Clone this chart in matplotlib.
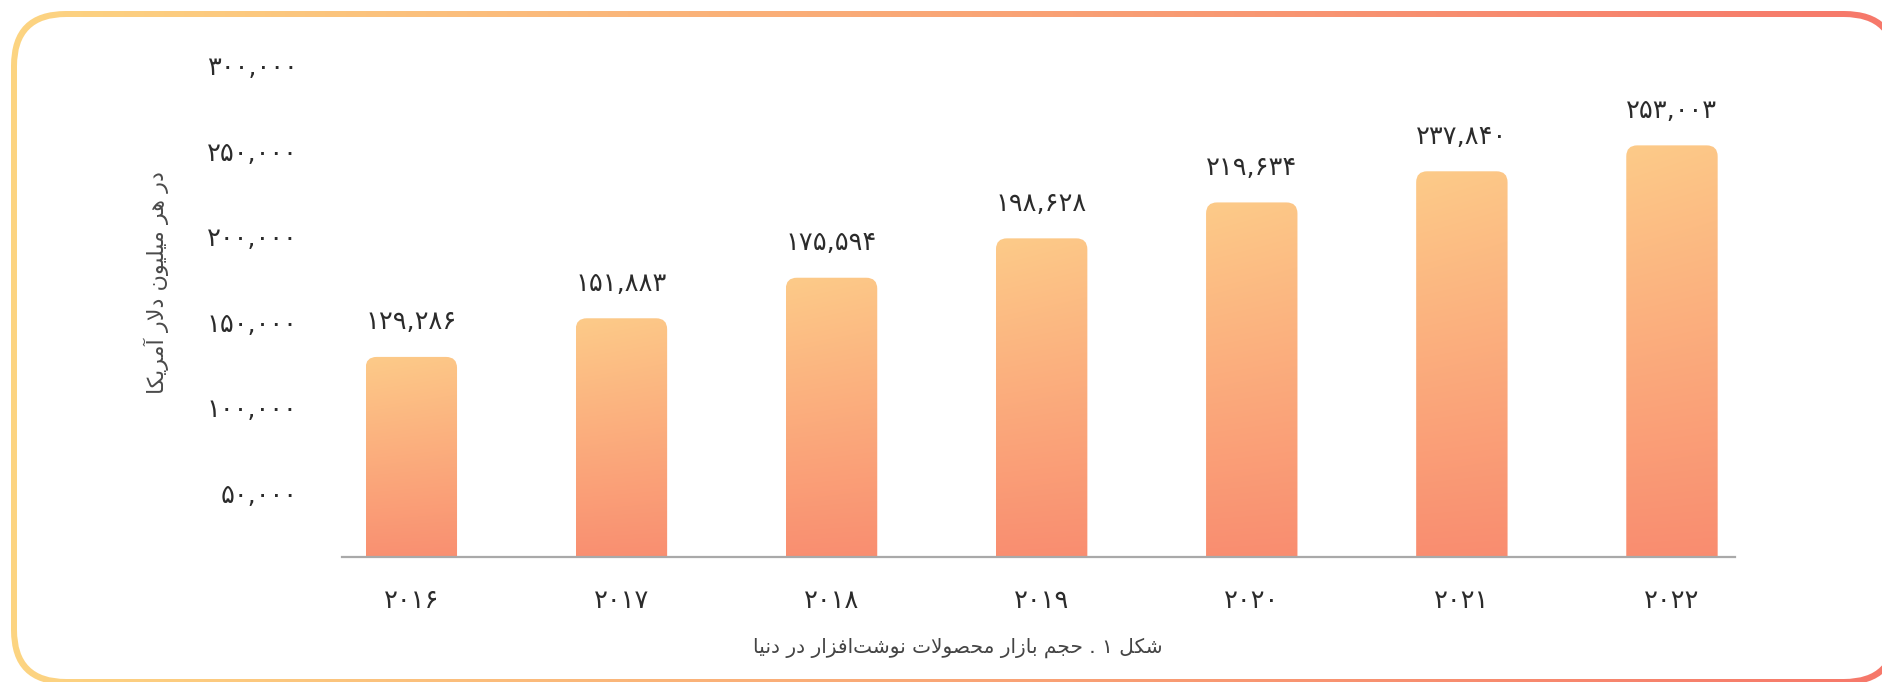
import re
import numpy as np
import matplotlib
matplotlib.use("Agg")
import matplotlib.pyplot as plt
from matplotlib.patches import FancyBboxPatch
from matplotlib.colors import to_rgb

# chart data
years = [2016, 2017, 2018, 2019, 2020, 2021, 2022]
market_size = [129286, 151883, 175594, 198628, 219634, 237840, 253003]
y_ticks = [50000, 100000, 150000, 200000, 250000, 300000]
y_label = "در هر میلیون دلار آمریکا"
caption = "شکل ۱ . حجم بازار محصولات نوشت\u200cافزار در دنیا"

W, H = 1883, 682
FONT = "DejaVu Sans"

# isolated, final, initial, medial presentation forms
FORMS = {
    'ا': ('\uFE8D', '\uFE8E', None, None),
    'آ': ('\uFE81', '\uFE82', None, None),
    'د': ('\uFEA9', '\uFEAA', None, None),
    'ر': ('\uFEAD', '\uFEAE', None, None),
    'ز': ('\uFEAF', '\uFEB0', None, None),
    'و': ('\uFEED', '\uFEEE', None, None),
    'ب': ('\uFE8F', '\uFE90', '\uFE91', '\uFE92'),
    'ت': ('\uFE95', '\uFE96', '\uFE97', '\uFE98'),
    'ج': ('\uFE9D', '\uFE9E', '\uFE9F', '\uFEA0'),
    'ح': ('\uFEA1', '\uFEA2', '\uFEA3', '\uFEA4'),
    'ش': ('\uFEB5', '\uFEB6', '\uFEB7', '\uFEB8'),
    'ص': ('\uFEB9', '\uFEBA', '\uFEBB', '\uFEBC'),
    'ف': ('\uFED1', '\uFED2', '\uFED3', '\uFED4'),
    'ل': ('\uFEDD', '\uFEDE', '\uFEDF', '\uFEE0'),
    'م': ('\uFEE1', '\uFEE2', '\uFEE3', '\uFEE4'),
    'ن': ('\uFEE5', '\uFEE6', '\uFEE7', '\uFEE8'),
    'ه': ('\uFEE9', '\uFEEA', '\uFEEB', '\uFEEC'),
    'ک': ('\uFB8E', '\uFB8F', '\uFB90', '\uFB91'),
    'ی': ('\uFBFC', '\uFBFD', '\uFBFE', '\uFBFF'),
}
LAM_ALEF = {'ا': ('\uFEFB', '\uFEFC'), 'آ': ('\uFEF5', '\uFEF6')}


def links_forward(c):
    return c in FORMS and FORMS[c][2] is not None


def shape(text):
    """join persian letters and put them in visual (left to right) order"""
    out = []
    i = 0
    while i < len(text):
        c = text[i]
        if c not in FORMS:
            if c != '\u200c':
                out.append(c)
            i += 1
            continue
        link_prev = i > 0 and links_forward(text[i - 1])
        nxt = text[i + 1] if i + 1 < len(text) else ''
        if c == 'ل' and nxt in LAM_ALEF:
            out.append(LAM_ALEF[nxt][1 if link_prev else 0])
            i += 2
            continue
        link_next = links_forward(c) and nxt in FORMS
        iso, fin, ini, med = FORMS[c]
        if link_prev and link_next:
            out.append(med)
        elif link_prev:
            out.append(fin)
        elif link_next:
            out.append(ini)
        else:
            out.append(iso)
        i += 1
    s = ''.join(out)[::-1]
    return re.sub(r'[۰-۹0-9]+', lambda m: m.group(0)[::-1], s)


def fa_num(v, sep=True):
    s = f"{v:,}" if sep else str(v)
    return s.translate(str.maketrans("0123456789", "۰۱۲۳۴۵۶۷۸۹"))


fig = plt.figure(figsize=(W / 100, H / 100), dpi=100)
fig.patch.set_facecolor("white")

# gradient frame around the chart
bg = fig.add_axes([0, 0, 1, 1], zorder=0)
bg.set_xlim(0, W)
bg.set_ylim(H, 0)
bg.axis("off")
c_left, c_right = np.array(to_rgb("#FDD582")), np.array(to_rgb("#F6786A"))
t = np.linspace(0, 1, 400)[None, :, None]
frame_img = c_left * (1 - t) + c_right * t
outer = FancyBboxPatch((11, 11), 1888, 674, boxstyle="round,pad=0,rounding_size=55",
                       facecolor="none", edgecolor="none", transform=bg.transData)
bg.add_patch(outer)
im = bg.imshow(frame_img, extent=(0, W, H, 0), aspect="auto", interpolation="bicubic")
im.set_clip_path(outer)
bg.add_patch(FancyBboxPatch((17, 17), 1876, 662, boxstyle="round,pad=0,rounding_size=49",
                            facecolor="white", edgecolor="none", zorder=3))
bg.set_xlim(0, W)
bg.set_ylim(H, 0)

# main axes, placed in pixels
left_px, right_px, top_px, base_px = 342, 1735, 65, 557
ax = fig.add_axes([left_px / W, (H - base_px) / H, (right_px - left_px) / W,
                   (base_px - top_px) / H], zorder=1)
ax.patch.set_alpha(0)

x = np.arange(len(years))
x_lim = (-0.33, 6.30)
y_lim = (12281, 300000)
bars = ax.bar(x, market_size, width=0.435, color="none")

px_x = (x_lim[1] - x_lim[0]) / (right_px - left_px)
px_y = (y_lim[1] - y_lim[0]) / (base_px - top_px)
top_c, bot_c = np.array(to_rgb("#FDCB89")), np.array(to_rgb("#F98A6F"))
vy = np.linspace(0, 1, 200)[:, None, None]
hx = np.linspace(0, 1, 60)[None, :, None]
bar_img = top_c * (1 - vy) + bot_c * vy
bar_img = bar_img * (1 - 0.06 * hx) + np.array(to_rgb("#F7806A")) * 0.06 * hx
bar_img = np.clip(bar_img, 0, 1)

for b in bars:
    x0, w, h = b.get_x(), b.get_width(), b.get_height()
    b.set_visible(False)
    shape_patch = FancyBboxPatch((x0, 0), w, h,
                                 boxstyle=f"round,pad=0,rounding_size={11 * px_x}",
                                 mutation_aspect=px_y / px_x,
                                 facecolor="none", edgecolor="none")
    ax.add_patch(shape_patch)
    g = ax.imshow(bar_img, extent=(x0, x0 + w, 0, h), aspect="auto",
                  interpolation="bicubic", zorder=2)
    g.set_clip_path(shape_patch)
    ax.annotate(fa_num(int(h)), (x0 + w / 2, h), xytext=(0, 25), textcoords="offset points",
                ha="center", va="center", fontsize=18.5, color="#2b2b2b", family=FONT)

ax.set_xlim(*x_lim)
ax.set_ylim(*y_lim)
ax.set_xticks(x, [fa_num(y, sep=False) for y in years])
ax.set_yticks(y_ticks, [fa_num(v) for v in y_ticks])
ax.tick_params(axis="both", length=0, labelsize=18.5, labelcolor="#2b2b2b")
ax.tick_params(axis="x", pad=22)
ax.tick_params(axis="y", pad=32)
for lbl in ax.get_xticklabels() + ax.get_yticklabels():
    lbl.set_family(FONT)
for side in ("top", "left", "right"):
    ax.spines[side].set_visible(False)
ax.spines["bottom"].set_color("#A9A9A9")
ax.spines["bottom"].set_linewidth(1.6)
ax.spines["bottom"].set_zorder(3)

fig.text(156 / W, 1 - 283 / H, shape(y_label), rotation=90, ha="center", va="center",
         fontsize=16, color="#4a4a4a", family=FONT)
fig.text(958 / W, 1 - 648 / H, shape(caption), ha="center", va="center",
         fontsize=14.5, color="#444444", family=FONT)

fig.savefig("out.png", dpi=100, facecolor="white")
